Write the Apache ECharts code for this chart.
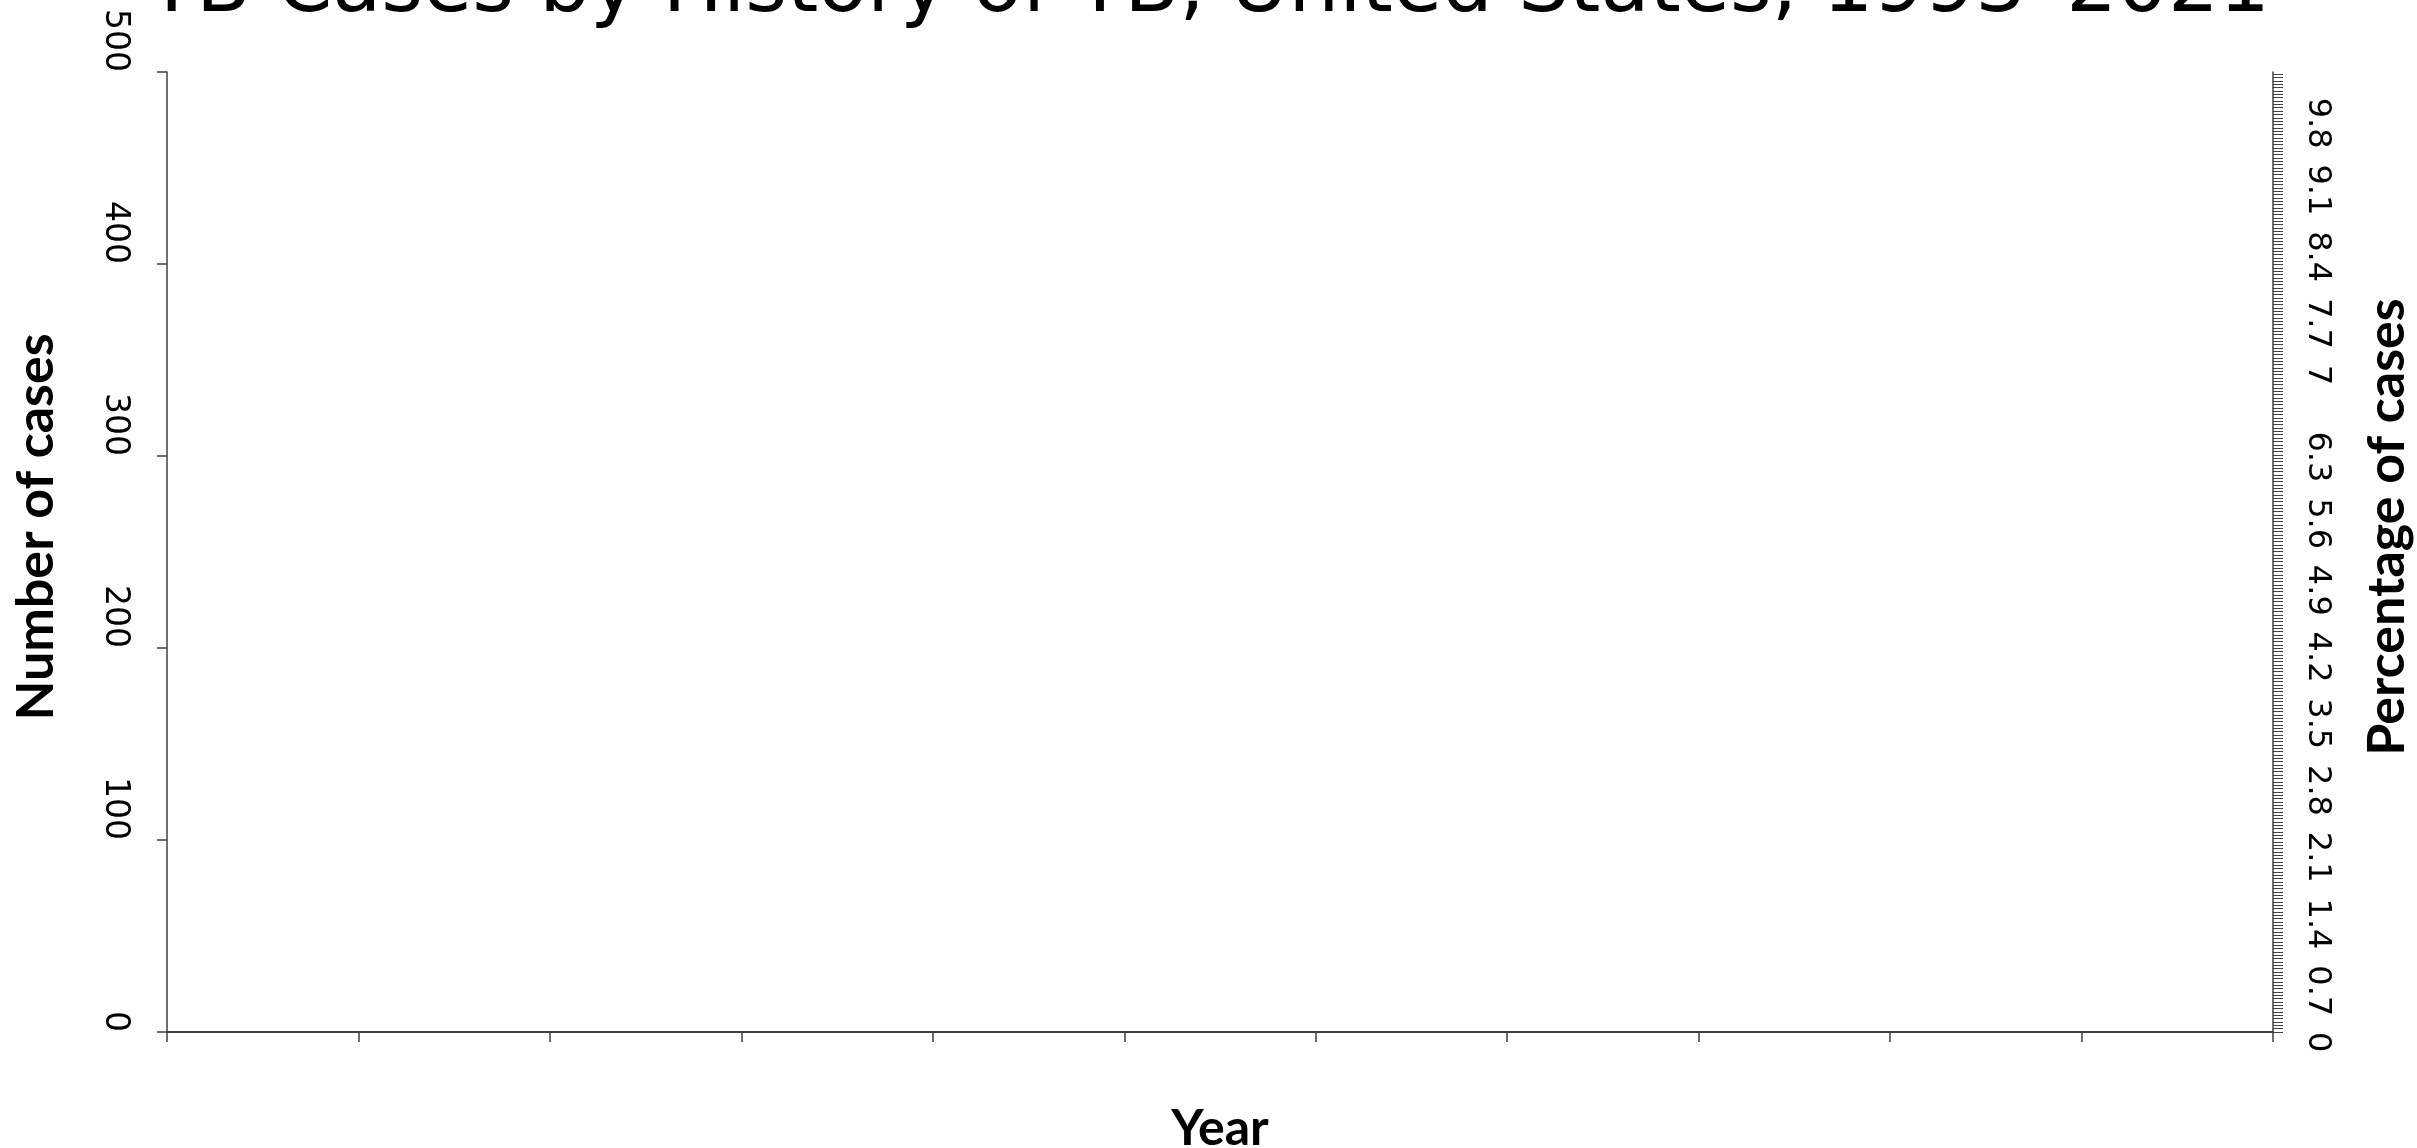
<!DOCTYPE html>
<html>
<head>
<meta charset="utf-8">
<title>TB Cases by History of TB</title>
<script src="https://cdn.jsdelivr.net/npm/echarts@6/dist/echarts.min.js"></script>
<style>
html, body { margin: 0; padding: 0; background: #fff; }
#chart { width: 2417px; height: 1148px; }
</style>
</head>
<body>
<div id="chart"></div>
<script>
// the source chart shows only its empty frame: no bars or lines are drawn
var years = ['', '', '', '', '', '', '', '', '', '', ''];
var casesData = [];
var percentData = [];

// axis ranges
var casesMax = 500, casesStep = 100;
var pctMax = 10.07, pctLabelStep = 0.7, pctTickStep = 0.035;

var axisColor = '#404040';

function pctLabel(v) {
    var k = Math.round(v / pctLabelStep);
    if (Math.abs(v - k * pctLabelStep) > 1e-6) return '';
    return String(Math.round(k * 7) / 10);
}

var myChart = echarts.init(document.getElementById('chart'));
myChart.setOption({
    backgroundColor: '#fff',
    animation: false,
    title: {
        text: 'TB Cases by History of TB, United States, 1993\u20132021',
        left: 'center',
        top: -50,
        padding: 0,
        textStyle: {
            fontFamily: 'DejaVu Sans',
            fontWeight: 'normal',
            fontSize: 80,
            color: '#000'
        }
    },
    grid: {
        left: 167,
        right: 144,
        top: 72,
        bottom: 116,
        outerBoundsMode: 'none'
    },
    xAxis: {
        type: 'category',
        data: years,
        boundaryGap: true,
        name: 'Year',
        nameLocation: 'middle',
        nameGap: 72,
        nameTextStyle: { fontFamily: 'Lato', fontWeight: 'bold', fontSize: 50, color: '#000' },
        axisLine: { lineStyle: { color: axisColor, width: 2 } },
        axisTick: { show: true, interval: 0, length: 10, lineStyle: { color: axisColor, width: 1.5 } },
        axisLabel: { show: false, interval: 0 },
        splitLine: { show: false }
    },
    yAxis: [{
        type: 'value',
        position: 'left',
        min: 0,
        max: casesMax,
        interval: casesStep,
        name: 'Number of cases',
        nameLocation: 'middle',
        nameGap: 105,
        nameTextStyle: { fontFamily: 'Lato', fontWeight: 'bold', fontSize: 52, color: '#000', padding: [0, 0, 0, 50] },
        axisLine: { show: true, lineStyle: { color: axisColor, width: 1.5 } },
        axisTick: { show: true, length: 10, lineStyle: { color: axisColor, width: 1.5 } },
        axisLabel: {
            rotate: -90,
            align: 'right',
            verticalAlign: 'middle',
            margin: 52,
            fontFamily: 'DejaVu Sans',
            fontSize: 33,
            color: '#000'
        },
        splitLine: { show: false }
    }, {
        type: 'value',
        position: 'right',
        min: 0,
        max: pctMax,
        interval: pctTickStep,
        name: 'Percentage of cases',
        nameLocation: 'middle',
        nameGap: 88,
        nameTextStyle: { fontFamily: 'Lato', fontWeight: 'bold', fontSize: 52, color: '#000', padding: [0, 0, 0, 50] },
        axisLine: { show: true, lineStyle: { color: axisColor, width: 1.5 } },
        axisTick: { show: true, length: 10, lineStyle: { color: axisColor, width: 1 } },
        axisLabel: {
            rotate: -90,
            align: 'left',
            verticalAlign: 'middle',
            margin: 44,
            showMaxLabel: false,
            fontFamily: 'DejaVu Sans',
            fontSize: 32,
            color: '#000',
            formatter: pctLabel
        },
        splitLine: { show: false }
    }],
    series: [{
        name: 'Number of cases',
        type: 'bar',
        yAxisIndex: 0,
        data: casesData
    }, {
        name: 'Percentage of cases',
        type: 'line',
        yAxisIndex: 1,
        data: percentData
    }]
});
</script>
</body>
</html>
